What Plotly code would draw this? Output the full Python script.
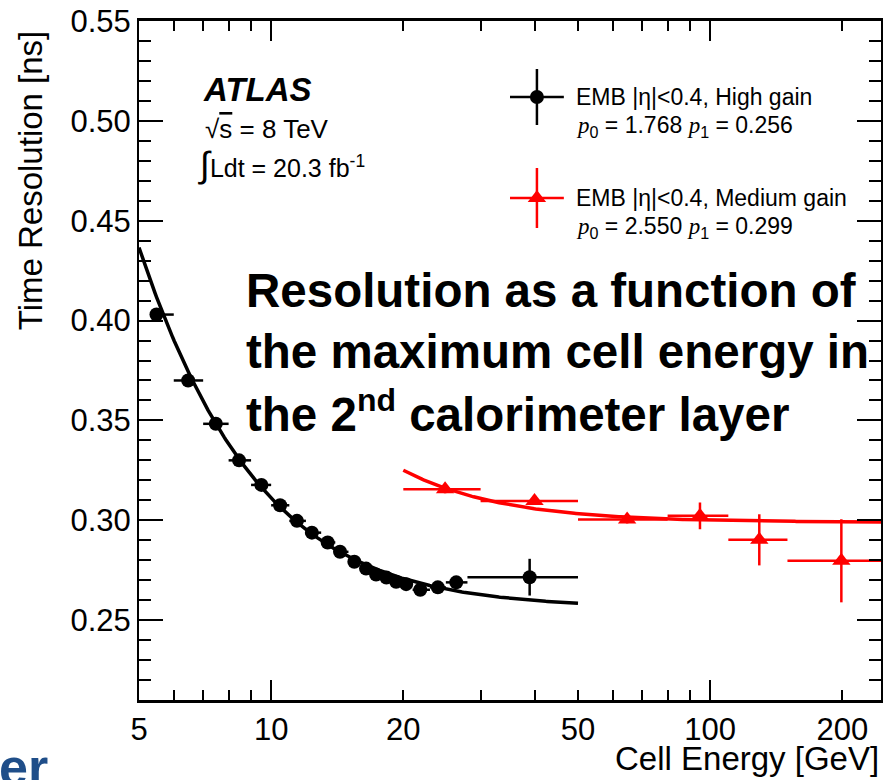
import numpy as np
import plotly.graph_objects as go

# ---- High gain (EMB |eta|<0.4) ----
hg_energy = [5.48, 6.47, 7.48, 8.45, 9.5, 10.48, 11.45, 12.38, 13.45, 14.35,
             15.47, 16.45, 17.34, 18.3, 19.26, 20.3, 21.86, 23.97, 26.4, 38.8]
hg_res = [0.403, 0.370, 0.3483, 0.330, 0.3177, 0.3075, 0.2997, 0.2938, 0.2889, 0.2842,
          0.2792, 0.2758, 0.2728, 0.2713, 0.2692, 0.268, 0.2652, 0.2664, 0.2689, 0.2715]
hg_bin_lo = [5.3, 6, 7, 8, 9, 10, 11, 12, 13, 14, 15, 16, 17, 18, 19, 20, 21, 23, 25, 28]
hg_bin_hi = [6, 7, 8, 9, 10, 11, 12, 13, 14, 15, 16, 17, 18, 19, 20, 21, 23, 25, 28, 50]
hg_err = [0.0015] * 19 + [0.0092]
hg_p0, hg_p1 = 1.768, 0.256

# ---- Medium gain (EMB |eta|<0.4) ----
mg_energy = [24.9, 39.8, 64.7, 94.8, 129.4, 199.0]
mg_res = [0.3155, 0.3097, 0.3004, 0.3022, 0.2902, 0.2797]
mg_bin_lo = [20, 30, 50, 80, 110, 150]
mg_bin_hi = [30, 50, 80, 110, 150, 250]
mg_err = [0.002, 0.002, 0.002, 0.0067, 0.0128, 0.0208]
mg_p0, mg_p1 = 2.550, 0.299

x_tick_vals = [5, 10, 20, 50, 100, 200]
x_tick_text = ["5", "10", "20", "50", "100", "200"]
x_major_ticks = [10, 100]
x_minor_ticks = [6, 7, 8, 9, 20, 30, 40, 50, 60, 70, 80, 90, 200]

X_MIN, X_MAX = 5, 245
Y_MIN, Y_MAX = 0.21, 0.55

RED = "#ff0000"
FONT = "Liberation Sans"
SERIF = "Liberation Serif"

# plot-area geometry in pixels
L, R, T, B = 139, 883, 21, 700
W, H = 887, 780


def px(x):
    return (x - L) / (R - L)


def py(y):
    return (B - y) / (B - T)


def fit(e, p0, p1):
    e = np.asarray(e, dtype=float)
    return np.sqrt((p0 / e) ** 2 + p1 ** 2)


fig = go.Figure()

# fitted resolution curves
e_hg = np.geomspace(X_MIN, 50, 300)
fig.add_trace(go.Scatter(x=e_hg, y=fit(e_hg, hg_p0, hg_p1), mode="lines",
                         line=dict(color="black", width=3.5), hoverinfo="skip"))
e_mg = np.geomspace(20, X_MAX, 300)
fig.add_trace(go.Scatter(x=e_mg, y=fit(e_mg, mg_p0, mg_p1), mode="lines",
                         line=dict(color=RED, width=3.5), hoverinfo="skip"))

# measured points with bin-width and statistical error bars
fig.add_trace(go.Scatter(
    x=hg_energy, y=hg_res, mode="markers",
    marker=dict(symbol="circle", size=14, color="black"),
    error_x=dict(type="data", symmetric=False,
                 array=[h - x for h, x in zip(hg_bin_hi, hg_energy)],
                 arrayminus=[x - l for l, x in zip(hg_bin_lo, hg_energy)],
                 color="black", thickness=2.5, width=0),
    error_y=dict(type="data", array=hg_err, color="black", thickness=2.5, width=0),
))
fig.add_trace(go.Scatter(
    x=mg_energy, y=mg_res, mode="markers",
    marker=dict(symbol="triangle-up", size=16, color=RED),
    error_x=dict(type="data", symmetric=False,
                 array=[h - x for h, x in zip(mg_bin_hi, mg_energy)],
                 arrayminus=[x - l for l, x in zip(mg_bin_lo, mg_energy)],
                 color=RED, thickness=2.5, width=0),
    error_y=dict(type="data", array=mg_err, color=RED, thickness=2.5, width=0),
    cliponaxis=True,
))

# axis carrying the tick marks (ROOT style: long decades, short sub-decades)
fig.add_trace(go.Scatter(x=[10], y=[0.3], xaxis="x3", yaxis="y", mode="markers",
                         marker=dict(opacity=0), hoverinfo="skip"))

# legend symbols drawn in a unit overlay frame
leg_x = [px(538), px(538)]
leg_y = [py(97), py(198)]
fig.add_trace(go.Scatter(
    x=[leg_x[0]], y=[leg_y[0]], xaxis="x2", yaxis="y2", mode="markers",
    marker=dict(symbol="circle", size=14, color="black"),
    error_x=dict(type="constant", value=27 / (R - L), color="black", thickness=2.5, width=0),
    error_y=dict(type="constant", value=28 / (B - T), color="black", thickness=2.5, width=0),
    hoverinfo="skip"))
fig.add_trace(go.Scatter(
    x=[leg_x[1]], y=[leg_y[1]], xaxis="x2", yaxis="y2", mode="markers",
    marker=dict(symbol="triangle-up", size=16, color=RED),
    error_x=dict(type="constant", value=27 / (R - L), color=RED, thickness=2.5, width=0),
    error_y=dict(type="constant", value=30 / (B - T), color=RED, thickness=2.5, width=0),
    hoverinfo="skip"))

tick_font = dict(family=FONT, size=31, color="black")

fig.update_layout(
    width=W, height=H,
    margin=dict(l=L, r=W - R, t=T, b=H - B, pad=0),
    paper_bgcolor="white", plot_bgcolor="white",
    showlegend=False,
    font=dict(family=FONT, color="black"),
    xaxis=dict(type="log", range=[np.log10(X_MIN), np.log10(X_MAX)],
               tickvals=x_tick_vals, ticktext=x_tick_text, ticks="",
               tickfont=tick_font, showgrid=False, zeroline=False,
               showline=True, linecolor="black", linewidth=2.5, mirror=True),
    xaxis3=dict(type="log", range=[np.log10(X_MIN), np.log10(X_MAX)],
                overlaying="x", anchor="y", side="bottom",
                tickvals=x_major_ticks, ticks="inside", ticklen=20, tickwidth=1.5,
                tickcolor="black", showticklabels=False, showgrid=False,
                zeroline=False, showline=True, linecolor="black", linewidth=2.5,
                mirror="ticks",
                minor=dict(tickvals=x_minor_ticks, ticks="inside", ticklen=10,
                           tickwidth=1.5, tickcolor="black", showgrid=False)),
    yaxis=dict(range=[Y_MIN, Y_MAX], tick0=0.25, dtick=0.05, tickformat=".2f",
               ticks="inside", ticklen=24, tickwidth=1.5, tickcolor="black",
               tickfont=tick_font, showgrid=False, zeroline=False,
               showline=True, linecolor="black", linewidth=2, mirror="ticks",
               minor=dict(dtick=0.01, ticks="inside", ticklen=12, tickwidth=1.5,
                          tickcolor="black", showgrid=False)),
    xaxis2=dict(overlaying="x", range=[0, 1], visible=False, anchor="y2"),
    yaxis2=dict(overlaying="y", range=[0, 1], visible=False, anchor="x2"),
)

ann = []


def text(x, y, s, size, xanchor="left", yanchor="middle", color="black",
         family=FONT, angle=0):
    ann.append(dict(x=x, y=y, xref="paper", yref="paper", text=s, showarrow=False,
                    xanchor=xanchor, yanchor=yanchor, textangle=angle,
                    font=dict(family=family, size=size, color=color)))


# axis titles
text(px(31), py(180), "Time Resolution [ns]", 33, xanchor="center", angle=-90)
text(1.0, py(759), "Cell Energy [GeV]", 33, xanchor="right")

# experiment labels
text(px(201), py(90), "<b><i>ATLAS</i></b>", 33)
text(px(203), py(129),
     "√<span style='text-decoration:overline'>s</span> = 8 TeV", 26)
text(px(196), py(164),
     "<span style='font-size:36px'>∫</span>Ldt = 20.3 fb<sup>-1</sup>", 25)

# legend texts
pi = f"<span style='font-family:{SERIF}'><i>p</i></span>"
text(px(575), py(97), "EMB |η|&lt;0.4, High gain", 23)
text(px(575), py(126), f"{pi}<sub>0</sub> = {hg_p0:.3f} {pi}<sub>1</sub> = {hg_p1:.3f}", 23)
text(px(575), py(198), "EMB |η|&lt;0.4, Medium gain", 23)
text(px(575), py(227), f"{pi}<sub>0</sub> = {mg_p0:.3f} {pi}<sub>1</sub> = {mg_p1:.3f}", 23)

# caption over the plot
text(px(244), py(290), "<b>Resolution as a function of</b>", 47.5)
text(px(244), py(351), "<b>the maximum cell energy in</b>", 47.5)
text(px(244), py(412),
     "<b>the 2<sup><span style='font-size:32px'>nd</span></sup> calorimeter layer</b>", 47.5)

# slide heading fragment at the lower-left edge
text(px(-3), py(767), "<b>er</b>", 52, color="#1f4e89")

fig.update_layout(annotations=ann)

fig.write_html("out.html")
